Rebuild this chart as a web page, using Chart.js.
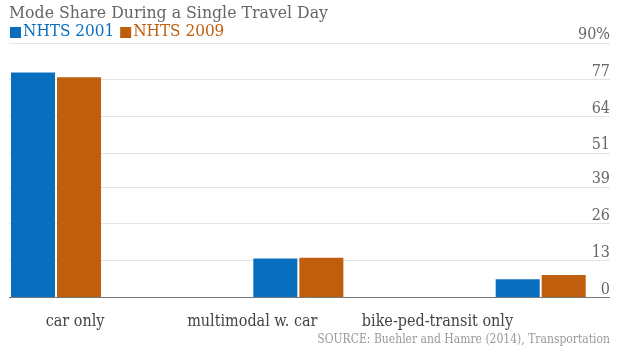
<!DOCTYPE html>
<html><head><meta charset="utf-8">
<script src="https://cdn.jsdelivr.net/npm/chart.js@4.4.0/dist/chart.umd.min.js"></script>
<style>html,body{margin:0;padding:0;background:#fff;}#wrap{width:620px;height:349px;}</style>
</head><body><div id="wrap"><canvas id="c" width="620" height="349"></canvas></div>
<script>
const categories = ['car only', 'multimodal w. car', 'bike-ped-transit only'];
const seriesNames = ['NHTS 2001', 'NHTS 2009'];
const nhts2001 = [79.6, 13.8, 6.4];
const nhts2009 = [77.9, 14.0, 7.9];
const yTicks = [0, 13, 26, 39, 51, 64, 77, 90];
const titleText = 'Mode Share During a Single Travel Day';
const sourceText = 'SOURCE: Buehler and Hamre (2014), Transportation';

const SERIF = "'DejaVu Serif Condensed', 'DejaVu Serif', serif";
const BLUE = '#0a6ebf';
const ORANGE = '#bf5e0c';
const labelCenters = [0.0785, 0.81, 1.574];

const legendPlugin = {
  id: 'inlineLegend',
  afterDraw(chart) {
    const ctx = chart.ctx;
    ctx.save();
    ctx.font = "17px " + SERIF;
    ctx.textBaseline = 'middle';
    ctx.textAlign = 'left';
    let x = 10;
    const y = 32;
    chart.data.datasets.forEach((d) => {
      ctx.fillStyle = d.backgroundColor;
      ctx.fillRect(x, y - 5, 11, 11);
      x += 13;
      ctx.fillText(d.label, x, y);
      x += ctx.measureText(d.label).width + 6;
    });
    ctx.restore();
  }
};

new Chart(document.getElementById('c'), {
  type: 'bar',
  data: {
    datasets: [
      { label: seriesNames[0], data: nhts2001.map((v, i) => ({ x: i, y: v })), backgroundColor: BLUE },
      { label: seriesNames[1], data: nhts2009.map((v, i) => ({ x: i, y: v })), backgroundColor: ORANGE }
    ]
  },
  plugins: [legendPlugin],
  options: {
    responsive: false,
    animation: false,
    categoryPercentage: 0.519,
    barPercentage: 0.957,
    layout: { padding: { left: 9, right: 10, top: 0, bottom: 2 } },
    plugins: {
      tooltip: { enabled: false },
      legend: { display: false },
      title: {
        display: true, text: titleText, align: 'start', color: '#666',
        font: { family: SERIF, size: 17.5, weight: 'normal', lineHeight: 1.2 },
        padding: { top: 3, bottom: 19 }
      },
      subtitle: {
        display: true, text: sourceText, align: 'end', position: 'bottom', color: '#999',
        font: { family: SERIF, size: 12, weight: 'normal', lineHeight: 1.2 },
        padding: { top: -14, bottom: 0 }
      }
    },
    scales: {
      x: {
        type: 'linear', min: -0.194, max: 2.286, offset: false, bounds: 'data',
        grid: { display: false, drawTicks: false, offset: false }, border: { display: false },
        afterBuildTicks: (s) => { s.ticks = labelCenters.map(v => ({ value: v })); },
        ticks: {
          autoSkip: false, maxRotation: 0, color: '#444', padding: 15,
          font: { family: SERIF, size: 16, lineHeight: 1.2 },
          callback: (v, i) => categories[i]
        }
      },
      y: {
        position: 'right', min: 0, max: 90,
        afterBuildTicks: (s) => { s.ticks = yTicks.map(v => ({ value: v })); },
        border: { display: false },
        grid: {
          drawTicks: false,
          color: (ctx) => (ctx.tick && ctx.tick.value === 0) ? '#777' : '#e4e4e4',
          lineWidth: 1
        },
        ticks: {
          mirror: true, padding: 0, labelOffset: -8, color: '#666',
          font: { family: SERIF, size: 16 },
          callback: (v) => v === 90 ? '90%' : String(v)
        }
      }
    }
  }
});
</script></body></html>
